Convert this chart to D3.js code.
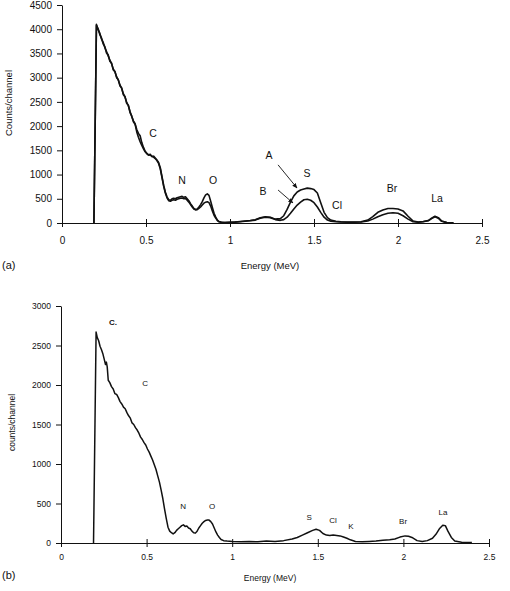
<!DOCTYPE html>
<html>
<head>
<meta charset="utf-8">
<script src="https://cdn.jsdelivr.net/npm/d3@7/dist/d3.min.js"></script>
<style>
  body { margin: 0; background: #fff; }
  text { font-family: "Liberation Sans", Arial, sans-serif; fill: #111; }
</style>
</head>
<body>
<div id="chart"></div>
<script>
// Panel (a): two spectra, A and B, on the same energy grid
const energyA = [0.19, 0.205, 0.215, 0.225, 0.235, 0.245, 0.255, 0.265, 0.275, 0.285,
  0.295, 0.305, 0.315, 0.325, 0.335, 0.345, 0.355, 0.365, 0.375, 0.385,
  0.395, 0.405, 0.415, 0.425, 0.435, 0.445, 0.455, 0.465, 0.475, 0.485,
  0.495, 0.505, 0.515, 0.525, 0.535, 0.545, 0.555, 0.565, 0.575, 0.585,
  0.595, 0.605, 0.615, 0.625, 0.635, 0.645, 0.655, 0.665, 0.675, 0.685,
  0.695, 0.705, 0.715, 0.725, 0.735, 0.745, 0.755, 0.765, 0.775, 0.785,
  0.795, 0.805, 0.815, 0.825, 0.835, 0.845, 0.855, 0.865, 0.875, 0.885,
  0.895, 0.905, 0.915, 0.925, 0.935, 0.95, 0.97, 1.0, 1.03, 1.06,
  1.09, 1.12, 1.15, 1.18, 1.21, 1.24, 1.27, 1.3, 1.32, 1.34,
  1.36, 1.38, 1.4, 1.42, 1.44, 1.46, 1.48, 1.5, 1.52, 1.54,
  1.56, 1.58, 1.6, 1.63, 1.66, 1.7, 1.74, 1.78, 1.82, 1.85,
  1.88, 1.91, 1.94, 1.97, 2.0, 2.03, 2.06, 2.09, 2.12, 2.15,
  2.18, 2.2, 2.22, 2.24, 2.26, 2.29, 2.33];
const countsA = [0, 4100, 3990, 3920, 3800, 3730, 3620, 3540, 3450, 3360,
  3290, 3180, 3120, 3020, 2950, 2850, 2780, 2670, 2600, 2490,
  2420, 2300, 2200, 2110, 2050, 1930, 1850, 1800, 1660, 1560,
  1480, 1440, 1400, 1420, 1370, 1380, 1340, 1300, 1250, 1140,
  960, 780, 640, 540, 480, 470, 500, 510, 500, 520,
  530, 540, 550, 530, 540, 500, 460, 400, 350, 300,
  280, 290, 330, 380, 440, 520, 580, 600, 570, 450,
  320, 200, 120, 60, 30, 15, 10, 15, 20, 30,
  40, 50, 65, 110, 130, 120, 80, 90, 150, 280,
  430, 560, 640, 680, 700, 720, 710, 690, 620, 420,
  220, 110, 60, 35, 25, 20, 20, 25, 60, 130,
  220, 270, 300, 300, 290, 250, 140, 40, 20, 30,
  50, 100, 140, 110, 40, 10, 5];
const countsB = [0, 4080, 4010, 3890, 3820, 3700, 3640, 3510, 3470, 3340,
  3300, 3160, 3130, 3000, 2960, 2830, 2790, 2650, 2610, 2470,
  2430, 2280, 2210, 2090, 2040, 1880, 1770, 1680, 1600, 1530,
  1470, 1430, 1410, 1400, 1380, 1360, 1330, 1290, 1230, 1120,
  940, 760, 620, 520, 460, 450, 470, 480, 470, 490,
  500, 510, 515, 500, 505, 470, 430, 380, 330, 290,
  270, 275, 300, 330, 370, 410, 430, 440, 420, 350,
  250, 160, 100, 50, 25, 12, 8, 12, 18, 25,
  35, 45, 60, 100, 120, 110, 70, 55, 70, 120,
  200, 290, 370, 430, 480, 490, 470, 420, 330, 220,
  120, 60, 35, 25, 20, 15, 15, 20, 40, 80,
  130, 170, 200, 210, 200, 150, 80, 25, 15, 25,
  45, 90, 130, 100, 35, 8, 4];

// Panel (b): single spectrum
const energyS = [0.19, 0.205, 0.212, 0.22, 0.228, 0.236, 0.244, 0.252, 0.26, 0.265,
  0.27, 0.276, 0.285, 0.295, 0.305, 0.315, 0.325, 0.335, 0.345, 0.355,
  0.365, 0.375, 0.385, 0.395, 0.405, 0.415, 0.425, 0.435, 0.445, 0.455,
  0.465, 0.475, 0.485, 0.495, 0.505, 0.515, 0.525, 0.535, 0.545, 0.555,
  0.565, 0.575, 0.585, 0.595, 0.605, 0.615, 0.625, 0.635, 0.645, 0.655,
  0.665, 0.675, 0.685, 0.695, 0.705, 0.715, 0.725, 0.735, 0.745, 0.755,
  0.765, 0.775, 0.785, 0.795, 0.805, 0.815, 0.825, 0.835, 0.845, 0.855,
  0.865, 0.875, 0.885, 0.895, 0.905, 0.915, 0.925, 0.935, 0.95, 0.97,
  1.0, 1.05, 1.1, 1.15, 1.2, 1.25, 1.3, 1.35, 1.38, 1.41,
  1.44, 1.47, 1.49, 1.51, 1.53, 1.55, 1.57, 1.59, 1.61, 1.63,
  1.65, 1.67, 1.69, 1.72, 1.76, 1.8, 1.84, 1.88, 1.92, 1.95,
  1.98, 2.01, 2.03, 2.05, 2.08, 2.11, 2.14, 2.17, 2.19, 2.21,
  2.23, 2.245, 2.26, 2.28, 2.3, 2.34, 2.4];
const countsS = [0, 2670, 2600, 2560, 2490, 2450, 2400, 2330, 2260, 2290,
  2230, 2060, 2030, 1980, 1950, 1890, 1880, 1840, 1790, 1760,
  1720, 1700, 1650, 1610, 1580, 1520, 1500, 1460, 1430, 1390,
  1340, 1310, 1270, 1240, 1190, 1150, 1100, 1050, 990, 930,
  850, 770, 670, 560, 430, 310, 200, 150, 130, 115,
  130, 160, 180, 200, 220, 230, 210, 215, 190, 180,
  150, 130, 125, 150, 190, 220, 250, 270, 285, 290,
  290, 270, 240, 190, 140, 100, 70, 45, 30, 25,
  20, 15, 20, 15, 25, 20, 30, 50, 70, 100,
  130, 160, 175, 160, 120, 100, 95, 100, 95, 90,
  75, 60, 40, 20, 15, 20, 25, 35, 40, 50,
  75, 90, 85, 70, 30, 20, 30, 60, 110, 180,
  225, 220, 150, 70, 25, 10, 5];

// Axis ticks
const xTicks = [0, 0.5, 1, 1.5, 2, 2.5];
const yTicksA = [0, 500, 1000, 1500, 2000, 2500, 3000, 3500, 4000, 4500];
const yTicksB = [0, 500, 1000, 1500, 2000, 2500, 3000];

// Peak labels, placed at [energy, counts]
const labelsA = [
  {text: "C", e: 0.542, c: 1860}, {text: "N", e: 0.714, c: 890},
  {text: "O", e: 0.899, c: 890}, {text: "A", e: 1.232, c: 1400},
  {text: "B", e: 1.196, c: 660}, {text: "S", e: 1.458, c: 1030},
  {text: "Cl", e: 1.637, c: 370}, {text: "Br", e: 1.964, c: 720},
  {text: "La", e: 2.232, c: 515}
];
const arrowsA = [
  {e0: 1.286, c0: 1200, e1: 1.399, c1: 722},
  {e0: 1.286, c0: 681, e1: 1.375, c1: 413}
];
const labelsB = [
  {text: "C.", e: 0.304, c: 2785, bold: true}, {text: "C", e: 0.491, c: 2013},
  {text: "N", e: 0.713, c: 456}, {text: "O", e: 0.882, c: 456},
  {text: "S", e: 1.449, c: 329}, {text: "Cl", e: 1.589, c: 291},
  {text: "K", e: 1.694, c: 203}, {text: "Br", e: 1.998, c: 266},
  {text: "La", e: 2.231, c: 392}
];

const width = 510;
const height = 591;

const svg = d3.select("#chart")
  .append("svg")
    .attr("width", width)
    .attr("height", height);

svg.append("defs")
  .append("marker")
    .attr("id", "arrow")
    .attr("viewBox", "0 0 10 10")
    .attr("refX", 9)
    .attr("refY", 5)
    .attr("markerWidth", 6)
    .attr("markerHeight", 6)
    .attr("orient", "auto")
  .append("path")
    .attr("d", "M0,1 L10,5 L0,9 z")
    .attr("fill", "#111");

const drawPanel = (p) => {

  const xScale = d3.scaleLinear()
    .domain([0, 2.5])
    .range([p.left, p.right]);

  const yScale = d3.scaleLinear()
    .domain([0, p.yMax])
    .range([p.bottom, p.top]);

  const g = svg.append("g");

  // Left axis
  const leftAxis = d3.axisLeft(yScale)
    .tickValues(p.yTicks)
    .tickFormat(d => d)
    .tickSize(5)
    .tickSizeOuter(0)
    .tickPadding(5);
  const gy = g.append("g")
      .attr("transform", `translate(${p.left}, 0)`)
      .call(leftAxis);
  gy.selectAll("text")
      .style("font-size", `${p.tickFont}px`)
      .attr("fill", "#111");

  // Bottom axis, ticks cross the line
  const bottomAxis = d3.axisBottom(xScale)
    .tickValues(xTicks)
    .tickFormat(d => d)
    .tickSize(4)
    .tickSizeOuter(0)
    .tickPadding(p.xPad);
  const gx = g.append("g")
      .attr("transform", `translate(0, ${p.bottom})`)
      .call(bottomAxis);
  gx.selectAll(".tick line").attr("y1", -4);
  gx.selectAll("text")
      .style("font-size", `${p.tickFont}px`)
      .attr("fill", "#111");
  g.selectAll(".domain, .tick line").attr("stroke", "#111");

  // Spectra
  const line = d3.line()
    .x(d => xScale(d[0]))
    .y(d => yScale(d[1]));

  p.series.forEach(s => {
    g.append("path")
      .datum(d3.zip(p.energy, s))
        .attr("d", line)
        .attr("fill", "none")
        .attr("stroke", "#111")
        .attr("stroke-width", p.lineWidth)
        .attr("stroke-linejoin", "round");
  });

  // Peak labels
  g.selectAll(".peak")
    .data(p.labels)
    .join("text")
      .attr("class", "peak")
      .attr("x", d => xScale(d.e))
      .attr("y", d => yScale(d.c))
      .attr("text-anchor", "middle")
      .attr("dominant-baseline", "central")
      .style("font-size", `${p.labelFont}px`)
      .style("font-weight", d => d.bold ? "bold" : "normal")
      .text(d => d.text);

  g.selectAll(".arrow")
    .data(p.arrows)
    .join("line")
      .attr("class", "arrow")
      .attr("x1", d => xScale(d.e0))
      .attr("y1", d => yScale(d.c0))
      .attr("x2", d => xScale(d.e1))
      .attr("y2", d => yScale(d.c1))
      .attr("stroke", "#111")
      .attr("stroke-width", 0.9)
      .attr("marker-end", "url(#arrow)");

  // Axis titles
  g.append("text")
      .text(p.yTitle)
      .attr("transform", `translate(${p.yTitleX}, ${(p.top + p.bottom) / 2 - p.yTitleShift}) rotate(-90)`)
      .attr("text-anchor", "middle")
      .attr("dominant-baseline", "central")
      .style("font-size", `${p.titleFont}px`);

  g.append("text")
      .text("Energy (MeV)")
      .attr("x", 270)
      .attr("y", p.titleY)
      .attr("text-anchor", "middle")
      .attr("dominant-baseline", "central")
      .style("font-size", `${p.titleFont}px`);

  g.append("text")
      .text(p.tag)
      .attr("x", 2)
      .attr("y", p.tagY)
      .attr("dominant-baseline", "central")
      .style("font-size", "11px");
};

drawPanel({
  left: 62, right: 482, top: 5, bottom: 223, yMax: 4500,
  yTicks: yTicksA, energy: energyA, series: [countsA, countsB],
  labels: labelsA, arrows: arrowsA, lineWidth: 1.6,
  tickFont: 10, labelFont: 10.5, titleFont: 9.5, xPad: 10,
  yTitle: "Counts/channel", yTitleX: 8, yTitleShift: 11,
  titleY: 265, tag: "(a)", tagY: 265
});

drawPanel({
  left: 61, right: 489, top: 306, bottom: 543, yMax: 3000,
  yTicks: yTicksB, energy: energyS, series: [countsS],
  labels: labelsB, arrows: [], lineWidth: 1.5,
  tickFont: 8.5, labelFont: 8, titleFont: 8.5, xPad: 7,
  yTitle: "counts/channel", yTitleX: 12, yTitleShift: 2,
  titleY: 578, tag: "(b)", tagY: 575
});
</script>
</body>
</html>
